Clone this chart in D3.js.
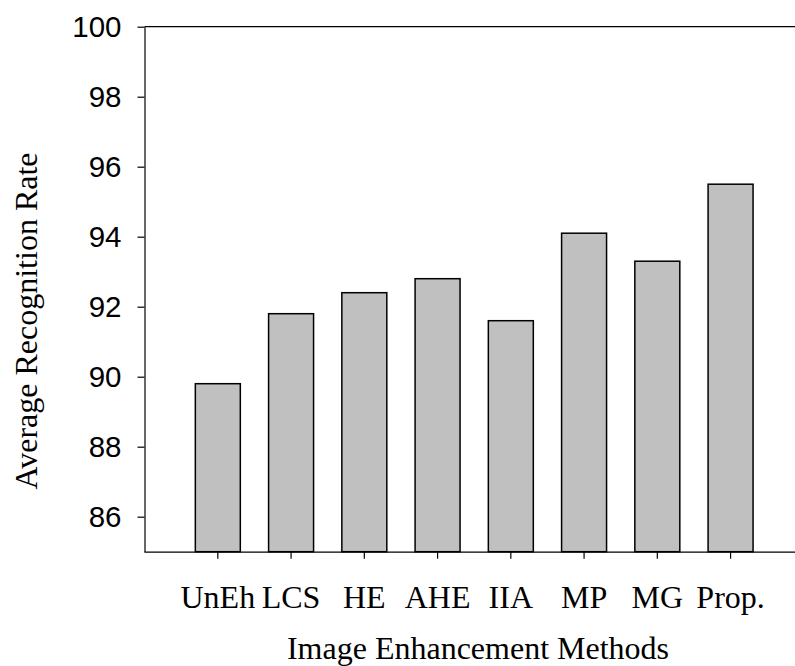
<!DOCTYPE html>
<html>
<head>
<meta charset="utf-8">
<script src="https://cdn.jsdelivr.net/npm/d3@7/dist/d3.min.js"></script>
<style>
  body { margin: 0; background: #fff; }
</style>
</head>
<body>
<div id="chart"></div>
<script>
const methods = ["UnEh", "LCS", "HE", "AHE", "IIA", "MP", "MG", "Prop."];
const rates = [89.8, 91.8, 92.4, 92.8, 91.6, 94.1, 93.3, 95.5];
const yTicks = [86, 88, 90, 92, 94, 96, 98, 100];

(function(){
  const width = 795;
  const height = 666;
  const left = 144.5, top = 26.7, bottom = 551.7, right = 795;

  const svg = d3.select("#chart")
    .append("svg")
    .attr("width", width)
    .attr("height", height);

  const y = d3.scaleLinear().domain([85, 100]).range([bottom, top]);
  // each category gets a slot, first slot starts half a slot right of the axis
  const x = d3.scaleBand().domain(methods).range([181.2, 767.2]).padding(0);
  const barW = x.bandwidth() * 0.614;

  svg.append("g")
    .selectAll("rect")
    .data(methods)
    .join("rect")
    .attr("x", d => x(d) + (x.bandwidth() - barW) / 2)
    .attr("y", (d, i) => y(rates[i]))
    .attr("width", barW)
    .attr("height", (d, i) => y(85) - y(rates[i]))
    .attr("fill", "#c0c0c0")
    .attr("stroke", "#000")
    .attr("stroke-width", 1.5);

  // left axis
  const yAxis = svg.append("g")
    .attr("transform", `translate(${left},0)`)
    .call(d3.axisLeft(y).tickValues(yTicks).tickSize(7).tickPadding(16).tickSizeOuter(0));
  yAxis.select(".domain").attr("stroke-width", 1.2);
  yAxis.selectAll(".tick line").attr("stroke-width", 1.2);
  yAxis.selectAll("text")
    .attr("font-family", "'Liberation Sans', Arial, sans-serif")
    .attr("font-size", 29.5)
    .attr("fill", "#000");

  // top line
  svg.append("line")
    .attr("x1", left).attr("x2", right)
    .attr("y1", top).attr("y2", top)
    .attr("stroke", "#000").attr("stroke-width", 1.2);

  // bottom axis
  const xAxis = svg.append("g")
    .attr("transform", `translate(0,${bottom})`)
    .call(d3.axisBottom(x).tickSize(7).tickPadding(27).tickSizeOuter(0));
  xAxis.select(".domain").attr("d", `M${left},0.5H${right}`).attr("stroke-width", 1.2);
  xAxis.selectAll(".tick line").attr("stroke-width", 1.2);
  xAxis.selectAll("text")
    .attr("font-family", "'Liberation Serif', 'Times New Roman', serif")
    .attr("font-size", 32)
    .attr("fill", "#000");

  svg.append("text")
    .attr("x", 478)
    .attr("y", 659)
    .attr("text-anchor", "middle")
    .attr("font-family", "'Liberation Serif', 'Times New Roman', serif")
    .attr("font-size", 32)
    .text("Image Enhancement Methods");

  svg.append("text")
    .attr("transform", "translate(37,321) rotate(-90)")
    .attr("text-anchor", "middle")
    .attr("font-family", "'Liberation Serif', 'Times New Roman', serif")
    .attr("font-size", 32)
    .text("Average Recognition Rate");
})();
</script>
</body>
</html>
